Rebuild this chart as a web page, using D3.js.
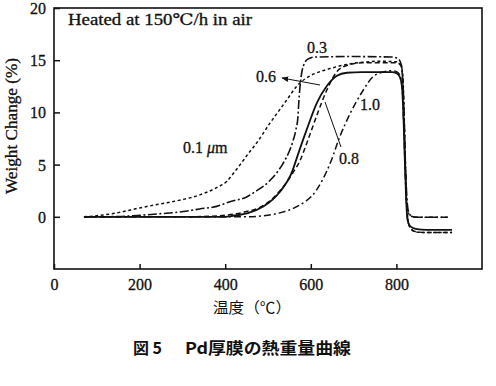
<!DOCTYPE html>
<html><head><meta charset="utf-8">
<script src="https://cdn.jsdelivr.net/npm/d3@7"></script>
<style>
html,body{margin:0;padding:0;background:#fff;}
svg{display:block;}
</style></head>
<body>
<svg id="chart" width="496" height="386"></svg>
<script>
// ---- data (temperature °C, weight change %) ----
const xTicks = [0, 200, 400, 600, 800];
const yTicks = [0, 5, 10, 15, 20];
const seriesNames = ["0.1", "0.3", "0.6", "0.8", "1.0"];

const curve01 = [[70,0],[100,0.1],[150,0.4],[200,0.85],[264,1.35],[300,1.65],[341,2.1],[380,2.8],[404,3.4],[418,4.1],[435,5.0],[453,6.0],[474,7.1],[505,9.0],[521,9.9],[544,11.2],[567,12.5],[598,13.5],[621,13.9],[645,14.2],[684,14.6],[720,14.8],[762,14.9],[800,14.85],[810,14.6],[815,13.5],[818,10],[821,5],[824,1.5],[828,-0.5],[835,-1.2],[845,-1.45],[860,-1.5],[930,-1.5]];
const curve03 = [[70,0],[150,0.02],[185,0.1],[250,0.3],[302,0.5],[340,0.75],[380,1.0],[411,1.45],[450,1.9],[470,2.4],[505,3.5],[535,5.1],[550,6.3],[558,7.2],[565,8.3],[570,9.6],[572,11],[574,12.1],[578,13.6],[583,14.5],[593,15.1],[610,15.3],[700,15.35],[790,15.3],[805,15.1],[812,14.5],[816,12],[819,8],[822,4],[825,1.5],[829,0.4],[836,0.05],[850,-0.05],[920,-0.05]];
const curve06 = [[70,0],[300,0],[380,0.08],[420,0.25],[450,0.5],[481,0.9],[512,1.8],[530,2.6],[558,4.2],[575,5.4],[591,7.1],[614,9.7],[637,12.1],[661,13.9],[684,14.5],[720,14.75],[800,14.75],[810,14.5],[815,13],[818,9.5],[821,5],[824,1],[828,-0.6],[835,-1.2],[848,-1.45],[870,-1.5],[930,-1.5]];
const curve08 = [[70,0],[400,0],[418,0.1],[453,0.35],[488,0.97],[512,1.7],[528,2.4],[558,4.5],[567,5.6],[590,8.3],[614,10.9],[637,12.5],[661,13.5],[684,13.8],[720,13.85],[790,13.85],[800,13.75],[808,13.4],[813,12.5],[817,9],[820,5],[823,1.5],[826,-0.3],[832,-0.9],[845,-1.15],[870,-1.25],[930,-1.25]];
const curve10 = [[70,0],[450,0],[488,0.1],[530,0.4],[567,0.97],[614,2.6],[645,5.1],[668,7.7],[692,9.9],[722,12.1],[745,13.4],[762,13.8],[790,14.0],[800,13.9],[808,13.6],[813,12.5],[817,9],[820,5],[823,1.8],[827,0.5],[834,0.05],[850,-0.05],[920,-0.05]];

const SERIF = "'Liberation Serif', 'DejaVu Serif', 'Times New Roman', Times, serif";
const CJK = "'Noto Sans CJK JP', 'Noto Sans CJK SC', sans-serif";
const ink = "#111";

const svg = d3.select("#chart");
const x = d3.scaleLinear().domain([0, 1000]).range([54, 482]);
const y = d3.scaleLinear().domain([-5, 20]).range([269, 8]);

const serifText = sel => sel.attr("font-family", SERIF).style("font-family", SERIF)
  .attr("fill", ink).attr("stroke", ink).attr("stroke-width", 0.3);

// frame
svg.append("rect").attr("x", x(0)).attr("y", y(20))
  .attr("width", x(1000) - x(0)).attr("height", y(-5) - y(20))
  .attr("fill", "none").attr("stroke", ink).attr("stroke-width", 1.6);

// axes
const yAxis = svg.append("g").attr("transform", `translate(${x(0)},0)`)
  .call(d3.axisLeft(y).tickValues(yTicks).tickSizeInner(-6).tickSizeOuter(0).tickPadding(8));
const xAxis = svg.append("g").attr("transform", `translate(0,${y(-5)})`)
  .call(d3.axisBottom(x).tickValues(xTicks).tickSizeInner(-5).tickSizeOuter(0).tickPadding(8));
[yAxis, xAxis].forEach(g => {
  g.attr("font-family", SERIF).attr("font-size", 16);
  g.select(".domain").remove();
  g.selectAll(".tick line").attr("stroke", ink).attr("stroke-width", 1.5);
  g.selectAll(".tick text").call(serifText).style("font-size", "16px");
});
xAxis.selectAll(".tick text").attr("dy", "0.8em");
yAxis.selectAll(".tick text").attr("dy", "0.34em");

// lines
const line = d3.line().x(d => x(d[0])).y(d => y(d[1])).curve(d3.curveMonotoneX);
const styles = [
  {data: curve01, dash: "3,2.6", w: 1.5},
  {data: curve03, dash: "9,2.5,2,2.5", w: 1.6},
  {data: curve06, dash: "5,3", w: 1.5},
  {data: curve08, dash: null, w: 1.8},
  {data: curve10, dash: "7,3,2,3", w: 1.5}
];
styles.forEach(s => {
  svg.append("path").datum(s.data).attr("d", line)
    .attr("fill", "none").attr("stroke", ink).attr("stroke-width", s.w)
    .attr("stroke-dasharray", s.dash);
});

// annotations
svg.append("defs").append("marker").attr("id", "arr").attr("viewBox", "0 0 10 10")
  .attr("refX", 9).attr("refY", 5).attr("markerWidth", 7).attr("markerHeight", 7)
  .attr("orient", "auto").append("path").attr("d", "M0,1 L10,5 L0,9 Z").attr("fill", ink);
svg.append("line").attr("x1", 320).attr("y1", 85).attr("x2", 282).attr("y2", 78)
  .attr("stroke", ink).attr("stroke-width", 1).attr("marker-end", "url(#arr)");
svg.append("line").attr("x1", 325).attr("y1", 102).attr("x2", 341).attr("y2", 147)
  .attr("stroke", ink).attr("stroke-width", 1);

const lab = (t, cx, cy) => svg.append("text").call(serifText)
  .attr("x", cx).attr("y", cy).attr("text-anchor", "middle").attr("dy", "0.35em")
  .style("font-size", "16px").text(t);
lab(seriesNames[1], 317, 47);
lab(seriesNames[2], 266, 76);
lab(seriesNames[4], 370, 104);
lab(seriesNames[3], 349, 158);
const t01 = svg.append("text").call(serifText).attr("x", 183).attr("y", 147)
  .attr("dy", "0.35em").style("font-size", "16px");
t01.append("tspan").text(seriesNames[0] + " ");
t01.append("tspan").style("font-style", "italic").text("μ");
t01.append("tspan").text("m");

svg.append("text").call(serifText).attr("x", 68).attr("y", 25)
  .attr("textLength", 184).attr("lengthAdjust", "spacingAndGlyphs")
  .style("font-size", "16px").text("Heated at 150℃/h in air");

// axis titles
svg.append("text").call(serifText)
  .attr("transform", "translate(17,126) rotate(-90)").attr("text-anchor", "middle")
  .attr("textLength", 136).attr("lengthAdjust", "spacingAndGlyphs")
  .style("font-size", "16px").text("Weight Change (%)");
svg.append("text").attr("x", 213).attr("y", 313)
  .attr("textLength", 78).attr("lengthAdjust", "spacingAndGlyphs")
  .style("font-family", CJK).style("font-size", "15px").attr("fill", ink)
  .text("温度（℃）");

// caption
svg.append("text").attr("x", 133).attr("y", 354)
  .attr("textLength", 29).attr("lengthAdjust", "spacing")
  .style("font-family", CJK).style("font-weight", "bold").style("font-size", "16px")
  .attr("fill", ink).text("図 5");
svg.append("text").attr("x", 185).attr("y", 354)
  .attr("textLength", 166).attr("lengthAdjust", "spacingAndGlyphs")
  .style("font-family", CJK).style("font-weight", "bold").style("font-size", "16px")
  .attr("fill", ink).text("Pd厚膜の熱重量曲線");
</script>
</body></html>
